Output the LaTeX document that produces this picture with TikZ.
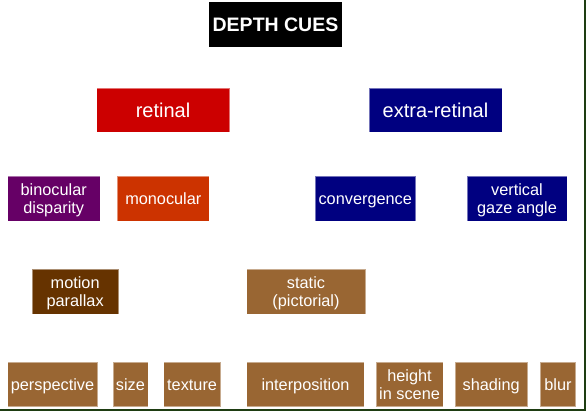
\documentclass[tikz,border=0pt]{standalone}
\usepackage{fontspec}
\setmainfont{Liberation Sans}
\definecolor{cRet}{HTML}{CC0000}
\definecolor{cNavy}{HTML}{000080}
\definecolor{cPurp}{HTML}{660066}
\definecolor{cMono}{HTML}{CC3300}
\definecolor{cDark}{HTML}{663300}
\definecolor{cBrown}{HTML}{996633}
\definecolor{cFrame}{HTML}{1E3D12}
\tikzset{
  box/.style={rectangle, inner sep=0pt, align=center, text=white,
    draw=white, draw opacity=0.45, line width=0.6pt, text depth=0pt,
    font=\fontsize{16.3}{18.5}\selectfont},
  oneline/.style={text height=11.7pt},
  bigbox/.style={box, text height=14.3pt, font=\fontsize{20}{22}\selectfont},
  titlebox/.style={box, text height=14pt, fill=black, draw=none, font=\bfseries\fontsize{19.5}{22}\selectfont},
}
\begin{document}
\begin{tikzpicture}[x=1pt,y=-1pt]
\useasboundingbox (0,0) rectangle (586,411);
\fill[white] (0,0) rectangle (586,411);
\fill[cFrame] (584,0) rectangle (586,411);
\fill[cFrame] (0,408.5) rectangle (586,411);
% title
\node[titlebox, minimum width=133pt, minimum height=44.5pt] (depth) at (275.5,24.75) {DEPTH CUES};
% level 1
\node[bigbox, fill=cRet, minimum width=133pt, minimum height=44pt] (retinal) at (163,110) {retinal};
\node[bigbox, fill=cNavy, minimum width=133pt, minimum height=44pt] (extra) at (435.5,110) {extra-retinal};
% level 2
\node[box, fill=cPurp, minimum width=92.5pt, minimum height=45pt] (binoc) at (53.75,198.5) {binocular\\disparity};
\node[box, oneline, fill=cMono, minimum width=92pt, minimum height=45pt] (mono) at (163.3,198.5) {monocular};
\node[box, oneline, fill=cNavy, minimum width=100.5pt, minimum height=45pt] (conv) at (365.25,198.5) {convergence};
\node[box, fill=cNavy, minimum width=100pt, minimum height=45pt] (vert) at (517,198.5) {vertical\\gaze angle};
% level 3
\node[box, fill=cDark, minimum width=86.7pt, minimum height=45.3pt] (motion) at (75.15,291.7) {motion\\parallax};
\node[box, fill=cBrown, minimum width=119pt, minimum height=45.3pt] (static) at (306,291.7) {static\\(pictorial)};
% level 4
\node[box, oneline, fill=cBrown, minimum width=90pt, minimum height=44.4pt] (persp) at (52.5,384.5) {perspective};
\node[box, oneline, fill=cBrown, minimum width=35.1pt, minimum height=44.4pt] (size) at (130.45,384.5) {size};
\node[box, oneline, fill=cBrown, minimum width=56.8pt, minimum height=44.4pt] (texture) at (192.1,384.5) {texture};
\node[box, oneline, fill=cBrown, minimum width=117.7pt, minimum height=44.4pt] (interp) at (305.45,384.5) {interposition};
\node[box, fill=cBrown, minimum width=66.5pt, minimum height=44.4pt] (height) at (409.55,384.5) {height\\in scene};
\node[box, oneline, fill=cBrown, minimum width=72.8pt, minimum height=44.4pt] (shading) at (491.2,384.5) {shading};
\node[box, oneline, fill=cBrown, minimum width=35.1pt, minimum height=44.4pt] (blur) at (557.95,384.5) {blur};
\end{tikzpicture}
\end{document}
